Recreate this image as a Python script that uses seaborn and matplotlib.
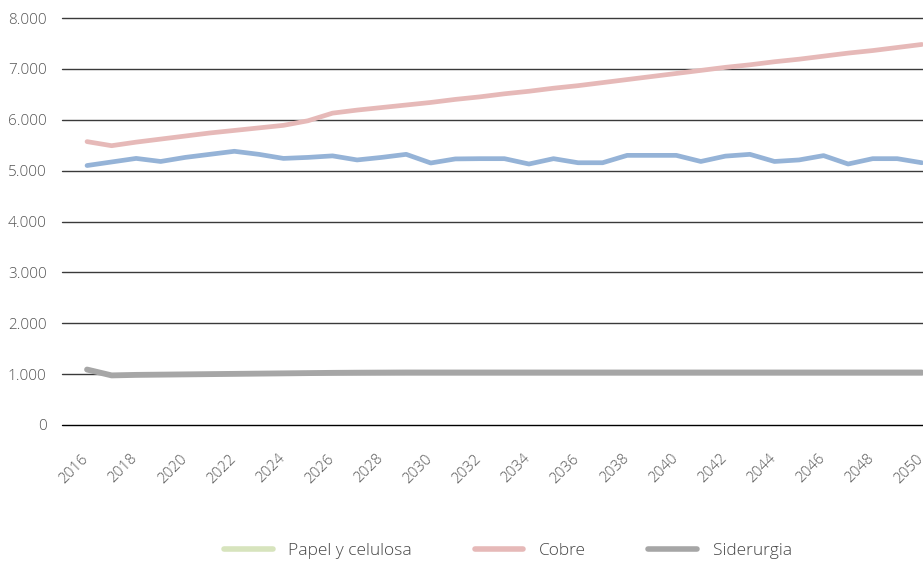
import matplotlib
matplotlib.use("Agg")
import matplotlib.pyplot as plt
import matplotlib.transforms as mtransforms
import seaborn as sns
import pandas as pd
from matplotlib.lines import Line2D
from matplotlib.ticker import FuncFormatter

years = list(range(2016, 2051))

papel = [5100, 5170, 5240, 5180, 5260, 5320, 5380, 5320, 5240, 5260, 5290, 5210, 5260, 5320, 5150,
         5230, 5235, 5235, 5130, 5235, 5155, 5155, 5300, 5300, 5300, 5180, 5285, 5320, 5180, 5210,
         5295, 5130, 5235, 5235, 5155]
cobre = [5570, 5490, 5560, 5620, 5680, 5740, 5790, 5840, 5890, 5980, 6130, 6190, 6240, 6290, 6340,
         6400, 6450, 6510, 6560, 6620, 6670, 6730, 6790, 6850, 6910, 6970, 7030, 7080, 7140, 7190,
         7250, 7310, 7360, 7420, 7480]
siderurgia = [1090, 975, 985, 990, 995, 1000, 1005, 1010, 1015, 1020, 1025, 1028, 1030, 1032, 1032,
              1032, 1032, 1032, 1032, 1032, 1032, 1032, 1032, 1032, 1032, 1032, 1032, 1032, 1032, 1032,
              1032, 1032, 1032, 1032, 1032]

series_names = ["Papel y celulosa", "Cobre", "Siderurgia"]
legend_labels = ["Papel y celulosa", "Cobre", "Siderurgia"]
yticks = [0, 1000, 2000, 3000, 4000, 5000, 6000, 7000, 8000]
xticks = list(range(2016, 2051, 2))

line_colors = {"Papel y celulosa": "#95b3d7", "Cobre": "#e6b9b8", "Siderurgia": "#a6a6a6"}
legend_colors = ["#d7e4bd", "#e6b9b8", "#a6a6a6"]

df = pd.concat([
    pd.DataFrame({"Año": years, "Valor": papel, "Serie": series_names[0]}),
    pd.DataFrame({"Año": years, "Valor": cobre, "Serie": series_names[1]}),
    pd.DataFrame({"Año": years, "Valor": siderurgia, "Serie": series_names[2]}),
])

sns.set_style("white")
plt.rcParams["font.family"] = ["Open Sans", "DejaVu Sans"]
plt.rcParams["font.weight"] = 300

fig = plt.figure(figsize=(9.23, 5.63), dpi=100)
ax = fig.add_axes([62 / 923, 138 / 563, 1 - 62 / 923, (425 - 18) / 563])

for y in yticks:
    ax.axhline(y, color="#000000" if y == 0 else "#3a3a3a", lw=1.0, zorder=0, clip_on=False)

for name in ["Siderurgia", "Papel y celulosa", "Cobre"]:
    sub = df[df["Serie"] == name]
    sns.lineplot(data=sub, x="Año", y="Valor", color=line_colors[name],
                 lw=4.2 if name == "Siderurgia" else 3.4, ax=ax, legend=False,
                 solid_capstyle="round")

ax.set_xlim(2014.98, 2050.05)
ax.set_ylim(0, 8000)
ax.set_yticks(yticks)
ax.yaxis.set_major_formatter(FuncFormatter(lambda v, p: f"{int(v):,}".replace(",", ".")))
ax.set_xticks(xticks)
ax.set_xticklabels([str(x) for x in xticks], rotation=45, ha="right", rotation_mode="anchor")
ax.tick_params(axis="y", length=0, pad=11, labelsize=11, labelcolor="#555555")
ax.tick_params(axis="x", length=0, pad=19, labelsize=10.8, labelcolor="#555555")
offset = mtransforms.ScaledTranslation(-6 / 100, 0, fig.dpi_scale_trans)
for lbl in ax.get_xticklabels():
    lbl.set_fontweight(300)
    lbl.set_transform(lbl.get_transform() + offset)
for lbl in ax.get_yticklabels():
    lbl.set_fontweight(300)
ax.set_xlabel("")
ax.set_ylabel("")
for s in ax.spines.values():
    s.set_visible(False)

handles = [Line2D([], [], color=c, lw=4) for c in legend_colors]
leg = fig.legend(handles, legend_labels, loc="center", bbox_to_anchor=(508 / 923, 12 / 563),
                 ncol=3, frameon=False, fontsize=12.5, handlelength=2.8, handletextpad=0.9,
                 columnspacing=3.6, labelcolor="#454545")
for t in leg.get_texts():
    t.set_fontweight(300)

fig.savefig("out.png", dpi=100)
